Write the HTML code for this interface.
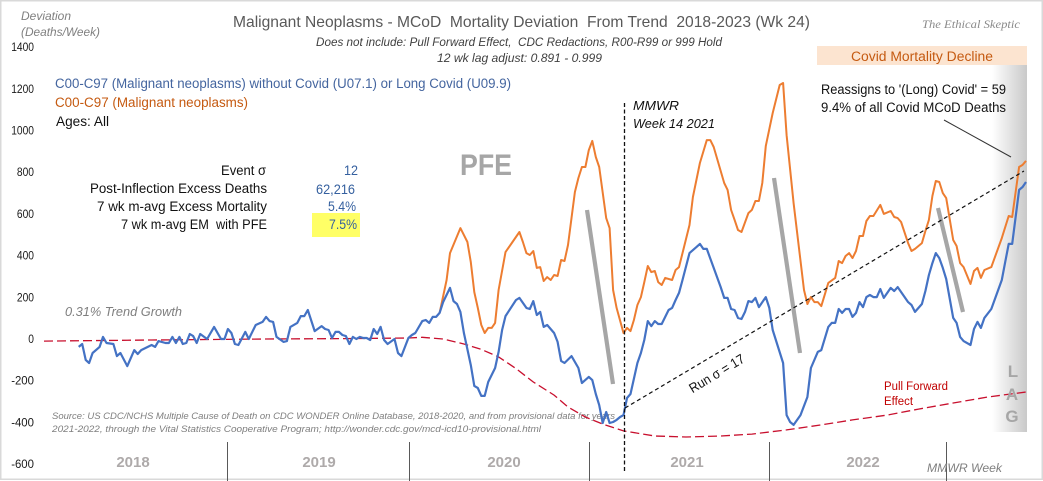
<!DOCTYPE html>
<html lang="en">
<head>
<meta charset="utf-8">
<title>Malignant Neoplasms - MCoD Mortality Deviation From Trend</title>
<style>
html,body{margin:0;padding:0;background:#fff;width:1043px;height:481px;overflow:hidden}
svg{display:block}
text{font-family:"Liberation Sans",sans-serif;white-space:pre}
</style>
</head>
<body>
<svg id="chart" xmlns="http://www.w3.org/2000/svg" width="1043" height="481" viewBox="0 0 1043 481">
  <defs>
    <linearGradient id="lagGrad" x1="0" y1="0" x2="1" y2="0">
      <stop offset="0" stop-color="#ffffff"/>
      <stop offset="1" stop-color="#c9c9c9"/>
    </linearGradient>
  </defs>
  <rect x="0" y="0" width="1043" height="481" fill="#fff"/>
  <rect x="0.75" y="0.75" width="1041.5" height="478.5" fill="none" stroke="#d9d9d9" stroke-width="1.5"/>

  <rect x="992" y="65" width="35" height="367" fill="url(#lagGrad)"/>
  <rect x="817" y="46" width="210" height="19" fill="#fce4d0"/>
  <text x="851" y="61" font-size="13.5" fill="#c55a11" textLength="142" lengthAdjust="spacingAndGlyphs">Covid Mortality Decline</text>

  <text x="21" y="20" font-size="11.5" font-style="italic" fill="#7f7f7f" textLength="50" lengthAdjust="spacingAndGlyphs">Deviation</text>
  <text x="21" y="36" font-size="11.5" font-style="italic" fill="#7f7f7f" textLength="79" lengthAdjust="spacingAndGlyphs">(Deaths/Week)</text>

  <text x="233" y="27" font-size="16" fill="#595959" textLength="577" lengthAdjust="spacingAndGlyphs">Malignant Neoplasms - MCoD  Mortality Deviation  From Trend  2018-2023 (Wk 24)</text>
  <text x="316" y="46" font-size="11.5" font-style="italic" fill="#404040" textLength="406" lengthAdjust="spacingAndGlyphs">Does not include: Pull Forward Effect,  CDC Redactions, R00-R99 or 999 Hold</text>
  <text x="437" y="62" font-size="11.5" font-style="italic" fill="#404040" textLength="165" lengthAdjust="spacingAndGlyphs">12 wk lag adjust: 0.891 - 0.999</text>
  <text x="922" y="28" font-size="11.5" font-style="italic" fill="#8a8a8a" style="font-family:'Liberation Serif',serif" textLength="98" lengthAdjust="spacingAndGlyphs">The Ethical Skeptic</text>

  <text x="55" y="88" font-size="13.5" fill="#44659f" textLength="456" lengthAdjust="spacingAndGlyphs">C00-C97 (Malignant neoplasms) without Covid (U07.1) or Long Covid (U09.9)</text>
  <text x="55" y="107" font-size="13.5" fill="#c55a11" textLength="193" lengthAdjust="spacingAndGlyphs">C00-C97 (Malignant neoplasms)</text>
  <text x="56" y="126" font-size="13.5" fill="#111" textLength="53" lengthAdjust="spacingAndGlyphs">Ages: All</text>

  <rect x="312" y="213" width="48" height="24" fill="#ffff66"/>
  <g font-size="13.5" fill="#111">
    <text x="221" y="175" textLength="45" lengthAdjust="spacingAndGlyphs">Event σ</text>
    <text x="90" y="193" textLength="177" lengthAdjust="spacingAndGlyphs">Post-Inflection Excess Deaths</text>
    <text x="97" y="211" textLength="170" lengthAdjust="spacingAndGlyphs">7 wk m-avg Excess Mortality</text>
    <text x="121" y="229" textLength="146" lengthAdjust="spacingAndGlyphs">7 wk m-avg EM  with PFE</text>
  </g>
  <g font-size="13.5" fill="#35609f">
    <text x="344" y="175" textLength="14" lengthAdjust="spacingAndGlyphs">12</text>
    <text x="316" y="194" textLength="39" lengthAdjust="spacingAndGlyphs">62,216</text>
    <text x="328" y="211" textLength="28" lengthAdjust="spacingAndGlyphs">5.4%</text>
    <text x="329" y="229" textLength="28" lengthAdjust="spacingAndGlyphs">7.5%</text>
  </g>

  <text x="460" y="175" font-size="30" font-weight="bold" fill="#a6a6a6" textLength="52" lengthAdjust="spacingAndGlyphs">PFE</text>
  <text x="65" y="316" font-size="12.5" font-style="italic" fill="#7f7f7f" textLength="117" lengthAdjust="spacingAndGlyphs">0.31% Trend Growth</text>

  <text x="52" y="419" font-size="9.5" font-style="italic" fill="#7f7f7f" textLength="563" lengthAdjust="spacingAndGlyphs">Source: US CDC/NCHS Multiple Cause of Death on CDC WONDER Online Database, 2018-2020, and from provisional data for years</text>
  <text x="52" y="432" font-size="9.5" font-style="italic" fill="#7f7f7f" textLength="489" lengthAdjust="spacingAndGlyphs">2021-2022, through the Vital Statistics Cooperative Program; http://wonder.cdc.gov/mcd-icd10-provisional.html</text>

  <g id="marks"></g>
  <g id="ticks"></g>

  <g stroke="#a6a6a6" stroke-width="4.2">
    <line x1="587" y1="210" x2="613" y2="384"/>
    <line x1="774" y1="178" x2="800" y2="353"/>
    <line x1="938" y1="208" x2="963" y2="312"/>
  </g>

  <line x1="625" y1="408" x2="1024" y2="171" stroke="#111" stroke-width="1.2" stroke-dasharray="4 3"/>
  <line x1="624.5" y1="103" x2="624.5" y2="473" stroke="#111" stroke-width="1.3" stroke-dasharray="4 2.5"/>
  <line x1="944" y1="120" x2="1011" y2="157" stroke="#333" stroke-width="1"/>

  <text x="633" y="110" font-size="13" font-style="italic" fill="#111" textLength="46" lengthAdjust="spacingAndGlyphs">MMWR</text>
  <text x="633" y="128" font-size="13" font-style="italic" fill="#111" textLength="82" lengthAdjust="spacingAndGlyphs">Week 14 2021</text>
  <text x="821" y="94" font-size="13.5" fill="#111" textLength="185" lengthAdjust="spacingAndGlyphs">Reassigns to '(Long) Covid' = 59</text>
  <text x="821" y="112" font-size="13.5" fill="#111" textLength="185" lengthAdjust="spacingAndGlyphs">9.4% of all Covid MCoD Deaths</text>
  <text x="717" y="378" font-size="13.5" fill="#111" text-anchor="middle" textLength="62" lengthAdjust="spacingAndGlyphs" transform="rotate(-31 717 374)">Run σ = 17</text>
  <text x="884" y="390" font-size="11.5" fill="#c00000" textLength="64" lengthAdjust="spacingAndGlyphs">Pull Forward</text>
  <text x="884" y="405" font-size="11.5" fill="#c00000" textLength="29" lengthAdjust="spacingAndGlyphs">Effect</text>

  <g font-size="17" font-weight="bold" fill="#a6a6a6" text-anchor="middle">
    <text x="1013" y="377">L</text>
    <text x="1012" y="400">A</text>
    <text x="1012" y="422">G</text>
  </g>

  <g stroke="#595959" stroke-width="1">
    <line x1="227.5" y1="442" x2="227.5" y2="481"/>
    <line x1="409.5" y1="442" x2="409.5" y2="481"/>
    <line x1="589.5" y1="442" x2="589.5" y2="481"/>
    <line x1="769.5" y1="442" x2="769.5" y2="481"/>
    <line x1="946.5" y1="442" x2="946.5" y2="481"/>
  </g>
  <g font-size="15" font-weight="bold" fill="#aeaaaa" text-anchor="middle">
    <text x="133" y="467">2018</text>
    <text x="319" y="467">2019</text>
    <text x="504" y="467">2020</text>
    <text x="687" y="467">2021</text>
    <text x="863" y="467">2022</text>
  </g>
  <text x="927" y="472" font-size="12" font-style="italic" fill="#7f7f7f" textLength="75" lengthAdjust="spacingAndGlyphs">MMWR Week</text>
</svg>
<script>
const yTickValues = [1400, 1200, 1000, 800, 600, 400, 200, 0, -200, -400, -600];

const blueWeeks = [9,10,11,12,13,15,16,17,19,20,21,23,25,26,27,30,31,32,34,35,36,37,38,39,40,41,42,43,44,46,48,50,51,52,53,54,55,57,58,60,62,63,64,65,66,68,69,70,72,73,74,75,77,79,80,81,82,83,84,85,86,87,88,89,90,91,92,93,94,95,96,97,98,100,101,102,104,105,106,108,109,110,111,112,113,114,116,117,118,119,120,122,123,124,125,126,127,129,130,131,132,135,136,138,139,140,141,142,143,144,146,147,148,149,151,153,154,156,157,158,159,160,161,162,163,164,165,166,167,168,170,171,172,173,174,175,176,177,179,180,181,182,183,185,187,188,189,190,192,194,195,196,197,198,199,200,201,202,203,204,205,207,208,209,212,213,214,215,217,219,220,222,223,225,226,227,228,229,230,231,232,233,234,235,236,237,238,239,240,241,243,244,245,248,249,250,252,253,254,255,256,257,258,259,261,262,263,264,266,267,268,269,270,272,275,276,277,278,280,281,282];
const blueValues = [-38,-24,-100,-115,-67,-38,10,-19,-24,-82,-67,-130,-53,-72,-53,-29,-38,-10,-19,-19,10,-19,10,-24,-19,24,14,-19,24,0,58,0,0,48,29,-24,-29,34,0,67,82,106,86,82,10,-14,-10,58,77,110,110,139,38,62,48,43,5,34,34,19,14,-24,10,0,10,5,5,-5,48,24,58,-5,-24,0,-67,-82,5,19,29,86,91,77,106,106,125,177,245,182,168,130,29,-125,-225,-235,-273,-273,-206,-139,-62,43,110,187,197,149,144,182,115,130,58,67,29,-14,-105,-115,-82,-139,-211,-182,-197,-264,-317,-403,-350,-403,-398,-388,-374,-365,-283,-264,-115,-67,-5,86,62,86,72,72,139,149,187,221,283,412,441,456,432,432,341,249,197,197,144,139,101,96,130,182,177,197,153,201,149,43,-115,-365,-398,-412,-365,-278,-139,-62,-53,58,77,77,144,125,144,144,106,125,177,153,201,211,201,201,240,197,245,230,249,177,163,130,168,230,307,364,412,388,341,288,101,77,10,-10,-29,48,82,53,101,144,283,369,456,456,715,729,753];

const orangeWeeks = [113,115,116,119,121,122,123,124,125,126,127,128,129,130,132,134,136,137,138,139,140,141,142,143,144,145,146,147,148,149,150,151,152,153,154,155,156,157,158,159,161,162,163,164,166,167,168,169,170,171,172,173,174,175,176,177,178,180,181,182,183,185,186,188,190,191,192,195,196,197,198,199,200,202,203,204,205,206,207,209,211,212,213,215,218,219,220,221,222,223,225,227,228,229,230,231,232,233,234,235,236,237,238,240,241,243,244,245,246,248,249,250,252,253,254,255,256,257,258,259,261,262,263,264,266,267,268,269,270,272,275,277,278,280,281,282];
const orangeValues = [125,283,412,532,465,369,225,149,67,29,53,53,77,235,417,465,513,465,412,403,422,341,345,278,297,283,307,302,379,374,451,580,705,772,825,825,906,950,873,825,580,532,235,149,29,53,38,91,163,201,273,350,321,326,273,259,293,283,331,345,412,547,681,844,954,954,921,748,715,619,571,523,513,604,619,662,662,748,926,1084,1218,1228,978,652,235,168,201,177,177,158,269,293,374,364,398,412,388,422,494,494,566,590,590,643,600,614,585,580,561,460,422,432,460,518,571,686,758,753,700,676,475,446,364,345,264,326,341,293,331,345,484,590,585,825,835,854];

const pfeWeeks = [-1,30,63,86,104,108,114,120,125,130,135,140,146,150,155,160,166,175,184,194,203,213,223,232,242,251,261,271,282];
const pfeValues = [-10,-5,0,2,5,8,0,-24,-50,-86,-142,-206,-269,-326,-374,-408,-441,-465,-470,-465,-456,-436,-412,-388,-365,-336,-307,-278,-254];

const NS = 'http://www.w3.org/2000/svg';
function xScale(week) { return 47.5 + 3.47 * week; }
function yScale(value) { return 339 - 0.2085 * value; }

function pointsFor(weeks, values) {
  return weeks.map(function (w, i) {
    return xScale(w).toFixed(1) + ',' + yScale(values[i]).toFixed(1);
  }).join(' ');
}

const marks = document.getElementById('marks');

const pfeLine = document.createElementNS(NS, 'polyline');


pfeLine.setAttribute('points', pointsFor(pfeWeeks, pfeValues));
pfeLine.setAttribute('fill', 'none');
pfeLine.setAttribute('stroke', '#c8102e');
pfeLine.setAttribute('stroke-width', '1.3');
pfeLine.setAttribute('stroke-dasharray', '9 4');
marks.appendChild(pfeLine);

const orangeLine = document.createElementNS(NS, 'polyline');


orangeLine.setAttribute('points', pointsFor(orangeWeeks, orangeValues));
orangeLine.setAttribute('fill', 'none');
orangeLine.setAttribute('stroke', '#ed7d31');
orangeLine.setAttribute('stroke-width', '2');
orangeLine.setAttribute('stroke-linejoin', 'round');
marks.appendChild(orangeLine);

const blueLine = document.createElementNS(NS, 'polyline');


blueLine.setAttribute('points', pointsFor(blueWeeks, blueValues));
blueLine.setAttribute('fill', 'none');
blueLine.setAttribute('stroke', '#4472c4');
blueLine.setAttribute('stroke-width', '2.2');
blueLine.setAttribute('stroke-linejoin', 'round');
marks.appendChild(blueLine);

const ticks = document.getElementById('ticks');
yTickValues.forEach(function (v) {
  const label = String(v);
  const t = document.createElementNS(NS, 'text');
  
  
  t.setAttribute('x', '34');
  t.setAttribute('y', (yScale(v) + 4).toFixed(1));
  t.setAttribute('text-anchor', 'end');
  t.setAttribute('font-size', '11.5');
  t.setAttribute('fill', '#1a1a1a');
  t.setAttribute('textLength', (label.length * 5.7).toFixed(1));
  t.setAttribute('lengthAdjust', 'spacingAndGlyphs');
  t.textContent = label;
  ticks.appendChild(t);
});
</script>
</body>
</html>
